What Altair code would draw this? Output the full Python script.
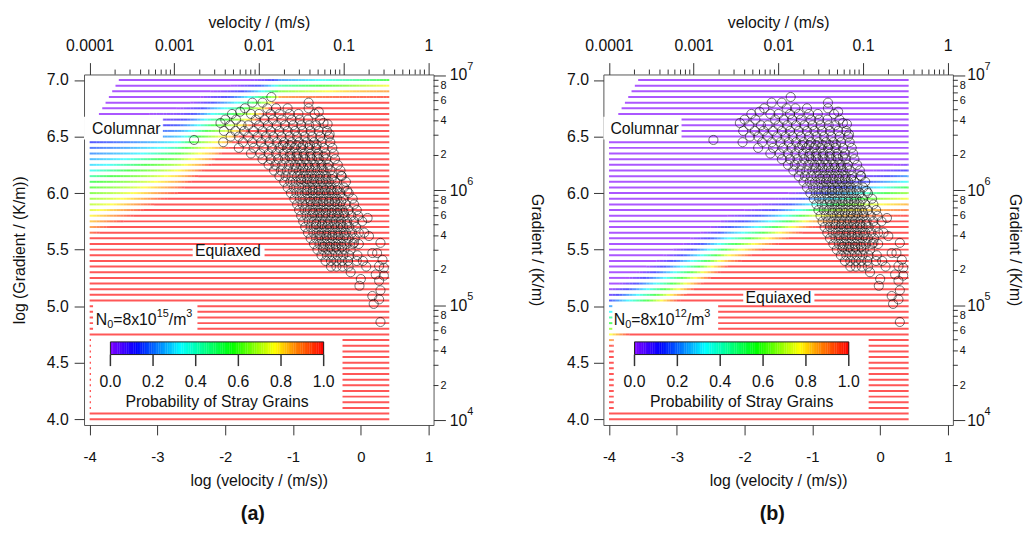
import altair as alt
import numpy as np
import pandas as pd

FONT = "Liberation Sans"

# ---------------- colour scale: probability of stray grains ----------------
COLOR_STOPS = [0.0, 0.12, 0.33, 0.57, 0.77, 0.87, 1.0]
COLOR_RANGE = ["#7f00ff", "#0000ff", "#00ffff", "#00ff00", "#ffff00", "#ff8000", "#ff0000"]
COLORBAR_TICKS = [0.0, 0.2, 0.4, 0.6, 0.8, 1.0]

# ---------------- probability contours ----------------
# log G (K/m) of each probability contour at the given log V nodes
CONTOUR_P = [1.0, 0.87, 0.77, 0.57, 0.33, 0.12, 0.0]
A_NODES = [-4.0, -2.7, -2.2, -1.2, 0.42]
A_CONTOURS = [
    [5.60, 6.00, 6.26, 6.83, 6.84],
    [5.70, 6.10, 6.32, 6.85, 6.90],
    [5.80, 6.20, 6.43, 6.86, 6.95],
    [6.08, 6.35, 6.58, 6.92, 7.00],
    [6.20, 6.45, 6.70, 6.97, 7.05],
    [6.45, 6.62, 6.80, 7.02, 7.10],
    [6.60, 6.75, 6.90, 7.08, 7.15],
]
B_NODES = [-4.0, -2.24, -1.0, 0.43]
B_CONTOURS = [
    [4.63, 5.35, 5.69, 5.80],
    [4.69, 5.40, 5.74, 5.89],
    [4.74, 5.45, 5.78, 5.95],
    [4.83, 5.52, 5.84, 6.05],
    [4.94, 5.60, 5.90, 6.11],
    [5.05, 5.70, 5.98, 6.20],
    [5.15, 5.80, 6.08, 6.28],
]
STRIPE_LEVELS = [round(4.0 + 0.05 * i, 2) for i in range(61)]
STRIPE_X_END = 0.42
STRIPE_X_START = -4.0
CORNER_CUT = [(-3.57, 7.0), (-4.0, 6.56)]

# ---------------- measured data (log velocity, log gradient) ----------------
SCATTER_ROWS = [
    (6.85, [-1.32]),
    (6.80, [-1.60, -1.45, -0.77]),
    (6.75, [-1.71, -1.38, -1.25, -1.08, -0.77]),
    (6.72, [-1.78, -0.62]),
    (6.70, [-1.90, -1.62, -1.50, -1.33, -1.20, -1.05, -0.92, -0.68]),
    (6.65, [-2.00, -1.84, -1.55, -1.42, -1.30, -1.17, -1.02, -0.90, -0.78, -0.60]),
    (6.62, [-2.07, -0.55]),
    (6.60, [-1.93, -1.76, -1.66, -1.50, -1.37, -1.24, -1.12, -1.00, -0.88, -0.76, -0.66]),
    (6.55, [-2.02, -1.85, -1.72, -1.58, -1.45, -1.33, -1.20, -1.08, -0.97, -0.86, -0.74, -0.62, -0.50]),
    (6.50, [-1.92, -1.80, -1.66, -1.52, -1.40, -1.29, -1.17, -1.05, -0.94, -0.83, -0.72, -0.60, -0.47]),
    (6.47, [-2.46]),
    (6.45, [-2.03, -1.74, -1.60, -1.47, -1.35, -1.24, -1.13, -1.02, -0.91, -0.80, -0.69, -0.58, -0.45]),
    (6.425, [-1.15, -1.05, -0.95, -0.85, -0.75, -0.65]),
    (6.40, [-1.80, -1.58, -1.43, -1.31, -1.20, -1.09, -0.98, -0.88, -0.77, -0.66, -0.55, -0.42]),
    (6.35, [-1.62, -1.48, -1.36, -1.25, -1.14, -1.04, -0.94, -0.84, -0.74, -0.63, -0.52, -0.40]),
    (6.325, [-1.05, -0.95, -0.85, -0.75, -0.65, -0.55]),
    (6.30, [-1.45, -1.33, -1.22, -1.12, -1.02, -0.92, -0.82, -0.72, -0.62, -0.51, -0.38]),
    (6.25, [-1.36, -1.26, -1.16, -1.06, -0.97, -0.88, -0.78, -0.68, -0.58, -0.48, -0.34]),
    (6.225, [-0.95, -0.85, -0.76, -0.67, -0.58, -0.49]),
    (6.20, [-1.28, -1.18, -1.09, -1.00, -0.91, -0.82, -0.73, -0.64, -0.55, -0.45, -0.30]),
    (6.15, [-1.20, -1.11, -1.02, -0.94, -0.85, -0.77, -0.68, -0.60, -0.51, -0.42, -0.28]),
    (6.125, [-0.88, -0.79, -0.70, -0.61, -0.52, -0.43]),
    (6.10, [-1.13, -1.04, -0.96, -0.88, -0.80, -0.72, -0.64, -0.56, -0.47, -0.38, -0.22]),
    (6.05, [-1.08, -0.99, -0.91, -0.83, -0.75, -0.67, -0.59, -0.51, -0.43, -0.34, -0.25]),
    (6.025, [-0.80, -0.71, -0.62, -0.53, -0.44, -0.35]),
    (6.00, [-1.03, -0.95, -0.87, -0.79, -0.71, -0.63, -0.55, -0.47, -0.39, -0.30, -0.18]),
    (5.95, [-0.98, -0.90, -0.82, -0.75, -0.67, -0.59, -0.51, -0.43, -0.35, -0.26, -0.12]),
    (5.925, [-0.74, -0.65, -0.56, -0.47, -0.38, -0.29]),
    (5.90, [-0.94, -0.86, -0.79, -0.71, -0.63, -0.55, -0.47, -0.39, -0.31, -0.22, -0.10]),
    (5.85, [-0.91, -0.83, -0.75, -0.67, -0.59, -0.51, -0.43, -0.35, -0.27, -0.18, -0.06]),
    (5.825, [-0.70, -0.61, -0.52, -0.43, -0.34, -0.25]),
    (5.80, [-0.88, -0.80, -0.72, -0.64, -0.56, -0.48, -0.40, -0.32, -0.24, -0.14, -0.04]),
    (5.75, [-0.85, -0.77, -0.69, -0.61, -0.53, -0.45, -0.37, -0.29, -0.20, -0.10, 0.02]),
    (5.725, [-0.66, -0.57, -0.48, -0.39, -0.30, -0.21]),
    (5.70, [-0.82, -0.74, -0.66, -0.58, -0.50, -0.42, -0.34, -0.26, -0.17, -0.07]),
    (5.65, [-0.78, -0.70, -0.62, -0.54, -0.46, -0.38, -0.30, -0.22, -0.13, -0.03, 0.05]),
    (5.625, [-0.60, -0.51, -0.42, -0.33, -0.24]),
    (5.60, [-0.74, -0.66, -0.58, -0.50, -0.42, -0.34, -0.26, -0.18, -0.09]),
    (5.55, [-0.69, -0.61, -0.53, -0.45, -0.37, -0.29, -0.21, -0.12, -0.03]),
    (5.525, [-0.55, -0.46, -0.37, -0.28]),
    (5.50, [-0.64, -0.56, -0.48, -0.40, -0.32, -0.24, -0.15]),
    (5.45, [-0.58, -0.50, -0.42, -0.34, -0.26, -0.17]),
    (5.40, [-0.52, -0.44, -0.36, -0.28, -0.19, 0.03]),
    (5.35, [-0.44, -0.36, -0.27, -0.18]),
]
EXTRA_X = [0.10, 0.29, 0.24, 0.17, 0.32, 0.27, 0.34, 0.22, 0.34, 0.00, 0.27, -0.02, 0.29,
           0.17, 0.27, 0.19, 0.29, -0.15, -0.05, 0.08, -0.10, 0.12, -0.49, -0.46, -0.29,
           -0.20, -0.06]
EXTRA_Y = [5.78, 5.56, 5.47, 5.47, 5.41, 5.355, 5.34, 5.28, 5.27, 5.24, 5.225, 5.18, 5.14,
           5.09, 5.06, 5.02, 4.86, 5.30, 5.45, 5.35, 5.56, 5.62, 6.61, 6.52, 6.155,
           6.02, 5.40]

# ---------------- axes ----------------
LEFT_TICKS = [4.0, 4.5, 5.0, 5.5, 6.0, 6.5, 7.0]
BOTTOM_TICKS = [-4, -3, -2, -1, 0, 1]
TOP_MAJOR = [0.0001, 0.001, 0.01, 0.1, 1.0]
RIGHT_MAJOR = [1e4, 1e5, 1e6, 1e7]
RIGHT_EXP = [4, 5, 6, 7]
MINOR_DIGITS = [2, 3, 4, 5, 6, 7, 8, 9]
LABELED_MINOR = [2, 4, 6, 8]

W, H = 354, 355
X_DOM = [-4.083, 1.073]
Y_DOM = [3.949, 7.049]
TOP_DOM = [10 ** -4.066, 10 ** 0.062]
RIGHT_DOM = [10 ** 3.958, 10 ** 7.005]

# N0 label pieces: text, font size, vertical shift
N0_PARTS_A = [("N", 16, 0), ("0", 11, 5), ("=8x10", 16, 0), ("15", 11, -6), ("/m", 16, 0), ("3", 11, -6)]
N0_PARTS_B = [("N", 16, 0), ("0", 11, 5), ("=8x10", 16, 0), ("12", 11, -6), ("/m", 16, 0), ("3", 11, -6)]
EM = {"N": 0.722, "0": 0.556, "1": 0.556, "2": 0.556, "3": 0.556, "5": 0.556, "8": 0.556,
      "=": 0.584, "x": 0.5, "/": 0.278, "m": 0.833}

PANELS = [
    dict(
        tag="(a)", ytitle="log (Gradient / (K/m))", n0=N0_PARTS_A,
        nodes=A_NODES, contours=A_CONTOURS,
        boxes=[(-4.083, -2.92, 6.475, 6.675), (-2.48, -1.42, 5.43, 5.535),
               (-3.95, -2.41, 4.775, 5.025), (-3.98, -0.27, 4.075, 4.725)],
        columnar=(-3.46, 6.57), equiaxed=(-1.96, 5.486), n0pos=(-3.91, 4.88),
        bar=(-3.694, -0.548), rlabpad=4, rtitlepad=62, expx=34, lpad=6,
    ),
    dict(
        tag="(b)", ytitle=None, n0=N0_PARTS_B,
        nodes=B_NODES, contours=B_CONTOURS,
        boxes=[(-4.083, -2.93, 6.475, 6.675), (-2.02, -0.97, 5.02, 5.125),
               (-3.95, -2.39, 4.775, 5.025), (-3.93, -0.17, 4.075, 4.725)],
        columnar=(-3.475, 6.57), equiaxed=(-1.5, 5.075), n0pos=(-3.93, 4.88),
        bar=(-3.624, -0.463), rlabpad=2, rtitlepad=23, expx=32, lpad=5,
    ),
]
BAR_Y = (4.572, 4.684)
BAR_TICK_Y = 4.47
BAR_LABEL_Y = 4.33
BAR_TITLE_Y = 4.15


def prob(x, y, nodes, contours):
    ys = [np.interp(x, nodes, c) for c in contours]
    return float(np.interp(y, ys, CONTOUR_P))


def stripe_frame(nodes, contours):
    (cx0, cy0), (cx1, cy1) = CORNER_CUT
    rows = []
    for y in STRIPE_LEVELS:
        x0 = max(STRIPE_X_START, cx0 + (cy0 - y) * (cx1 - cx0) / (cy0 - cy1))
        edges = list(np.arange(x0, STRIPE_X_END - 0.01, 0.05)) + [STRIPE_X_END]
        segs = []
        for a, b in zip(edges[:-1], edges[1:]):
            p = round(prob((a + b) / 2, y, nodes, contours), 3)
            if segs and segs[-1][2] == p:
                segs[-1][1] = b
            else:
                segs.append([a, b, p])
        rows += [dict(x=a, x2=b, y=y, p=p) for a, b, p in segs]
    return pd.DataFrame(rows)


scatter_x, scatter_y = [], []
for yy, xs in SCATTER_ROWS:
    scatter_x += xs
    scatter_y += [yy] * len(xs)
scatter_x += EXTRA_X
scatter_y += EXTRA_Y
scatter_df = pd.DataFrame({"x": scatter_x, "y": scatter_y})

cscale = alt.Scale(domain=COLOR_STOPS, range=COLOR_RANGE, interpolate="rgb", clamp=True)


def panel(c):
    xs = alt.Scale(domain=X_DOM, nice=False, zero=False)
    ys = alt.Scale(domain=Y_DOM, nice=False, zero=False)
    xax = alt.Axis(values=BOTTOM_TICKS, labelExpr="'' + datum.value", title="log (velocity / (m/s))",
                   orient="bottom", tickSize=10, labelPadding=15, titlePadding=8,
                   labelFontSize=15, titleFontSize=16)
    yax = alt.Axis(values=LEFT_TICKS, format=".1f", title=c["ytitle"], orient="left",
                   tickSize=10, labelPadding=c["lpad"], titlePadding=19,
                   labelFontSize=16, titleFontSize=16)
    X = alt.X("x:Q", scale=xs, axis=xax)
    Y = alt.Y("y:Q", scale=ys, axis=yax)

    stripes = alt.Chart(stripe_frame(c["nodes"], c["contours"])).mark_rule(
        strokeWidth=2, opacity=0.66).encode(
        x=X, x2="x2:Q", y=Y, color=alt.Color("p:Q", scale=cscale, legend=None))

    boxes = alt.Chart(pd.DataFrame(c["boxes"], columns=["x", "x2", "y", "y2"])).mark_rect(
        color="white").encode(x=X, x2="x2:Q", y=Y, y2="y2:Q")

    bx0, bx1 = c["bar"]
    n = 120
    bar_df = pd.DataFrame({
        "x": [bx0 + (bx1 - bx0) * i / n for i in range(n)],
        "x2": [bx0 + (bx1 - bx0) * (i + 1) / n + 0.004 for i in range(n)],
        "y": [BAR_Y[0]] * n, "y2": [BAR_Y[1]] * n,
        "p": [(i + 0.5) / n for i in range(n)],
    })
    bar = alt.Chart(bar_df).mark_rect().encode(
        x=X, x2="x2:Q", y=Y, y2="y2:Q", color=alt.Color("p:Q", scale=cscale, legend=None))
    border = alt.Chart(pd.DataFrame({"x": [bx0], "x2": [bx1], "y": [BAR_Y[0]], "y2": [BAR_Y[1]]})).mark_rect(
        fillOpacity=0, stroke="#222", strokeWidth=1).encode(x=X, x2="x2:Q", y=Y, y2="y2:Q")
    tick_x = [bx0 + (bx1 - bx0) * t for t in COLORBAR_TICKS]
    bticks = alt.Chart(pd.DataFrame({"x": tick_x, "y": [BAR_Y[0]] * 6, "y2": [BAR_TICK_Y] * 6})).mark_rule(
        color="#333", strokeWidth=1.5).encode(x=X, y=Y, y2="y2:Q")
    blabels = alt.Chart(pd.DataFrame({"x": tick_x, "y": [BAR_LABEL_Y] * 6,
                                      "t": [f"{t:.1f}" for t in COLORBAR_TICKS]})).mark_text(
        font=FONT, fontSize=16, baseline="middle", color="#111").encode(x=X, y=Y, text="t:N")
    btitle = alt.Chart(pd.DataFrame({"x": [(bx0 + bx1) / 2], "y": [BAR_TITLE_Y],
                                     "t": ["Probability of Stray Grains"]})).mark_text(
        font=FONT, fontSize=16, baseline="middle", color="#111").encode(x=X, y=Y, text="t:N")

    labels_c = alt.Chart(pd.DataFrame({
        "x": [c["columnar"][0], c["equiaxed"][0]], "y": [c["columnar"][1], c["equiaxed"][1]],
        "t": ["Columnar", "Equiaxed"]})).mark_text(
        font=FONT, fontSize=16, baseline="middle", color="#111").encode(x=X, y=Y, text="t:N")

    n0_layers = []
    off = 0.0
    n0df = pd.DataFrame({"x": [c["n0pos"][0]], "y": [c["n0pos"][1]]})
    for txt, fs, dy in c["n0"]:
        n0_layers.append(alt.Chart(n0df).mark_text(
            font=FONT, fontSize=fs, baseline="middle", align="left", color="#111",
            dx=off, dy=dy, text=txt).encode(x=X, y=Y))
        off += sum(EM.get(ch, 0.556) for ch in txt) * fs

    pts = alt.Chart(scatter_df).mark_point(
        shape="circle", size=85, filled=False, color="black", opacity=0.55, strokeWidth=1).encode(x=X, y=Y)

    tag = alt.Chart(pd.DataFrame({"t": [c["tag"]]})).mark_text(
        font=FONT, fontSize=20, fontWeight="bold", baseline="middle", color="#111").encode(
        x=alt.value(W / 2 - 6), y=alt.value(445), text="t:N")

    main = alt.layer(stripes, boxes, bar, border, bticks, blabels, btitle, labels_c, *n0_layers, pts, tag)

    # top axis: velocity (m/s), log scale
    top_minor = [m * d for d in TOP_MAJOR[:-1] for m in MINOR_DIGITS]
    top_ax = alt.Axis(orient="top", values=TOP_MAJOR, tickSize=12, labelPadding=9, titlePadding=8,
                      labelFontSize=16, titleFontSize=16, title="velocity / (m/s)",
                      labelExpr="datum.value < 0.0005 ? '0.0001' : datum.value < 0.005 ? '0.001' : "
                                "datum.value < 0.05 ? '0.01' : datum.value < 0.5 ? '0.1' : '1'")
    top = alt.Chart(pd.DataFrame({"v": top_minor})).mark_rule(color="#333").encode(
        x=alt.X("v:Q", scale=alt.Scale(type="log", domain=TOP_DOM, nice=False), axis=top_ax),
        y=alt.value(-5), y2=alt.value(0))

    # right axis: gradient (K/m), log scale
    rs = alt.Scale(type="log", domain=RIGHT_DOM, nice=False)
    r_ax = alt.Axis(orient="right", values=RIGHT_MAJOR, labelExpr="'10'", tickSize=12,
                    labelPadding=c["rlabpad"], labelFontSize=16, title="Gradient / (K/m)",
                    titleFontSize=16, titlePadding=c["rtitlepad"], titleAngle=90)
    r_minor = [m * d for d in RIGHT_MAJOR[:-1] for m in MINOR_DIGITS]
    r_lab = [m * d for d in RIGHT_MAJOR[:-1] for m in LABELED_MINOR]
    rmin = alt.Chart(pd.DataFrame({"g": r_minor})).mark_rule(color="#333").encode(
        y=alt.Y("g:Q", scale=rs, axis=r_ax), x=alt.value(W), x2=alt.value(W + 5))
    rlab = alt.Chart(pd.DataFrame({"g": r_lab, "t": [str(int(round(v / 10 ** np.floor(np.log10(v) + 1e-9)))) for v in r_lab]})).mark_text(
        font=FONT, fontSize=11, align="left", baseline="middle", color="#111").encode(
        y=alt.Y("g:Q", scale=rs), x=alt.value(W + 7), text="t:N")
    rexp = alt.Chart(pd.DataFrame({"g": RIGHT_MAJOR, "t": [str(e) for e in RIGHT_EXP]})).mark_text(
        font=FONT, fontSize=11, align="left", baseline="middle", dy=-8, color="#111").encode(
        y=alt.Y("g:Q", scale=rs), x=alt.value(W + c["expx"]), text="t:N")
    right = alt.layer(rmin, rlab, rexp)

    return alt.layer(main, top, right).resolve_scale(x="independent", y="independent").properties(
        width=W, height=H)


chart = alt.hconcat(panel(PANELS[0]), panel(PANELS[1]), spacing=21).properties(
    padding={"left": 3, "top": 2, "right": 0, "bottom": 2}
).configure_view(stroke="#555", strokeWidth=1).configure_axis(
    grid=False, domain=False, labelFont=FONT, titleFont=FONT, tickColor="#333",
    labelColor="#111", titleColor="#111", titleFontWeight="normal", labelFlush=False,
    labelOverlap=False, labelBound=False)

chart.save("out.html", embed_options={"renderer": "svg", "actions": False})
